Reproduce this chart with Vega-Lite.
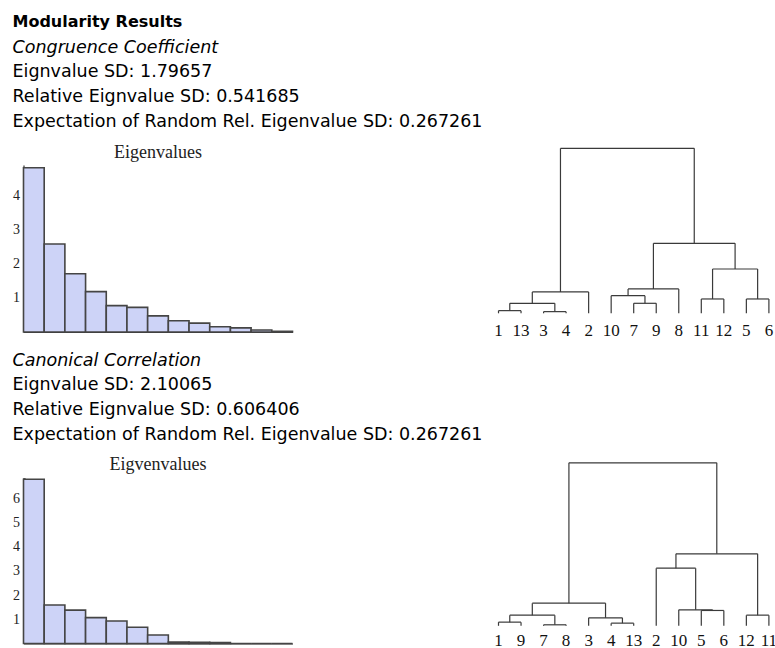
{
  "$schema": "https://vega.github.io/schema/vega-lite/v6.json",
  "background": "white",
  "padding": {"left": 12.5, "top": 13, "right": 0, "bottom": 0},
  "config": {
    "view": {"stroke": null},
    "axis": {"grid": false},
    "concat": {"spacing": 0}
  },
  "title": {
    "text": "Modularity Results",
    "anchor": "start",
    "font": "DejaVu Sans",
    "fontSize": 16,
    "fontWeight": "bold",
    "color": "#000000",
    "offset": 9
  },
  "spacing": 12.5,
  "vconcat": [
    {
      "title": {
        "text": "Congruence Coefficient",
        "subtitle": ["Eignvalue SD: 1.79657", "Relative Eignvalue SD: 0.541685", "Expectation of Random Rel. Eigenvalue SD: 0.267261"],
        "anchor": "start",
        "font": "DejaVu Sans",
        "fontSize": 17.5,
        "fontStyle": "italic",
        "fontWeight": "normal",
        "color": "#000000",
        "subtitleFont": "DejaVu Sans",
        "subtitleFontSize": 17.5,
        "subtitleColor": "#000000",
        "subtitleLineHeight": 25,
        "subtitlePadding": 6.2,
        "offset": 13.5
      },
      "spacing": 200.5,
      "hconcat": [
        {
          "width": 269,
          "height": 167,
          "title": {"text": "Eigenvalues", "font": "Liberation Serif", "fontSize": 18, "fontWeight": "normal", "color": "#222222", "offset": 3.5, "anchor": "middle"},
          "data": {"values": [
            {"k": 1, "v": 4.80}, {"k": 2, "v": 2.57}, {"k": 3, "v": 1.70}, {"k": 4, "v": 1.18},
            {"k": 5, "v": 0.77}, {"k": 6, "v": 0.72}, {"k": 7, "v": 0.47}, {"k": 8, "v": 0.33},
            {"k": 9, "v": 0.26}, {"k": 10, "v": 0.155}, {"k": 11, "v": 0.12}, {"k": 12, "v": 0.06},
            {"k": 13, "v": 0.02}
          ]},
          "mark": {"type": "bar", "fill": "#CDD3F7", "stroke": "#454545", "strokeWidth": 1.6},
          "encoding": {
            "x": {"field": "k", "type": "ordinal", "scale": {"paddingInner": 0, "paddingOuter": 0},
                  "axis": {"labels": false, "ticks": false, "title": null, "domainColor": "#333333", "domainWidth": 1.2}},
            "y": {"field": "v", "type": "quantitative", "scale": {"domain": [0, 4.88], "nice": false},
                  "axis": {
                    "title": null,
                    "values": [0.2, 0.4, 0.6, 0.8, 1, 1.2, 1.4, 1.6, 1.8, 2, 2.2, 2.4, 2.6, 2.8, 3, 3.2, 3.4, 3.6, 3.8, 4, 4.2, 4.4, 4.6, 4.8],
                    "labelExpr": "datum.value % 1 == 0 ? datum.value : ''",
                    "labelFont": "Liberation Serif", "labelFontSize": 14, "labelColor": "#222222",
                    "labelPadding": 8,
                    "tickSize": {"condition": {"test": "datum.value % 1 == 0", "value": -4}, "value": -2},
                    "tickColor": "#333333",
                    "domainColor": "#333333", "domainWidth": 1.2
                  }}
          }
        },
        {
          "width": 279.4,
          "height": 148.3,
          "layer": [
            {
              "data": {"values": [
                {"x1": 0, "x2": 1, "y1": 8, "y2": 8}, {"x1": 2, "x2": 3, "y1": 5, "y2": 5},
                {"x1": 0.5, "x2": 2.5, "y1": 30, "y2": 30}, {"x1": 1.5, "x2": 4, "y1": 64, "y2": 64},
                {"x1": 6, "x2": 7, "y1": 30, "y2": 30}, {"x1": 5, "x2": 6.5, "y1": 53, "y2": 53},
                {"x1": 5.75, "x2": 8, "y1": 73, "y2": 73}, {"x1": 9, "x2": 10, "y1": 43, "y2": 43},
                {"x1": 11, "x2": 12, "y1": 43, "y2": 43}, {"x1": 9.5, "x2": 11.5, "y1": 133, "y2": 133},
                {"x1": 6.875, "x2": 10.5, "y1": 210, "y2": 210}, {"x1": 2.75, "x2": 8.6875, "y1": 495, "y2": 495},
                {"x1": 0, "x2": 0, "y1": 0, "y2": 8}, {"x1": 1, "x2": 1, "y1": 0, "y2": 8},
                {"x1": 2, "x2": 2, "y1": 0, "y2": 5}, {"x1": 3, "x2": 3, "y1": 0, "y2": 5},
                {"x1": 0.5, "x2": 0.5, "y1": 8, "y2": 30}, {"x1": 2.5, "x2": 2.5, "y1": 5, "y2": 30},
                {"x1": 1.5, "x2": 1.5, "y1": 30, "y2": 64}, {"x1": 4, "x2": 4, "y1": 0, "y2": 64},
                {"x1": 6, "x2": 6, "y1": 0, "y2": 30}, {"x1": 7, "x2": 7, "y1": 0, "y2": 30},
                {"x1": 6.5, "x2": 6.5, "y1": 30, "y2": 53}, {"x1": 5, "x2": 5, "y1": 0, "y2": 53},
                {"x1": 5.75, "x2": 5.75, "y1": 53, "y2": 73}, {"x1": 8, "x2": 8, "y1": 0, "y2": 73},
                {"x1": 9, "x2": 9, "y1": 0, "y2": 43}, {"x1": 10, "x2": 10, "y1": 0, "y2": 43},
                {"x1": 11, "x2": 11, "y1": 0, "y2": 43}, {"x1": 12, "x2": 12, "y1": 0, "y2": 43},
                {"x1": 9.5, "x2": 9.5, "y1": 43, "y2": 133}, {"x1": 11.5, "x2": 11.5, "y1": 43, "y2": 133},
                {"x1": 6.875, "x2": 6.875, "y1": 73, "y2": 210}, {"x1": 10.5, "x2": 10.5, "y1": 133, "y2": 210},
                {"x1": 2.75, "x2": 2.75, "y1": 64, "y2": 495}, {"x1": 8.6875, "x2": 8.6875, "y1": 210, "y2": 495}
              ]},
              "mark": {"type": "rule", "stroke": "#3a3a3a", "strokeWidth": 1.2},
              "encoding": {
                "x": {"field": "x1", "type": "quantitative", "scale": {"domain": [-0.2, 12.2], "nice": false, "zero": false}, "axis": null},
                "x2": {"field": "x2"},
                "y": {"field": "y1", "type": "quantitative", "scale": {"domain": [0, 445], "nice": false}, "axis": null},
                "y2": {"field": "y2"}
              }
            },
            {
              "data": {"values": [
                {"pos": 0, "label": "1"}, {"pos": 1, "label": "13"}, {"pos": 2, "label": "3"}, {"pos": 3, "label": "4"},
                {"pos": 4, "label": "2"}, {"pos": 5, "label": "10"}, {"pos": 6, "label": "7"}, {"pos": 7, "label": "9"},
                {"pos": 8, "label": "8"}, {"pos": 9, "label": "11"}, {"pos": 10, "label": "12"}, {"pos": 11, "label": "5"},
                {"pos": 12, "label": "6"}
              ]},
              "mark": {"type": "text", "font": "Liberation Serif", "fontSize": 17, "baseline": "alphabetic", "dy": 22.4, "color": "#111111"},
              "encoding": {
                "x": {"field": "pos", "type": "quantitative"},
                "y": {"datum": 0, "type": "quantitative"},
                "text": {"field": "label"}
              }
            }
          ]
        }
      ]
    },
    {
      "title": {
        "text": "Canonical Correlation",
        "subtitle": ["Eignvalue SD: 2.10065", "Relative Eignvalue SD: 0.606406", "Expectation of Random Rel. Eigenvalue SD: 0.267261"],
        "anchor": "start",
        "font": "DejaVu Sans",
        "fontSize": 17.5,
        "fontStyle": "italic",
        "fontWeight": "normal",
        "color": "#000000",
        "subtitleFont": "DejaVu Sans",
        "subtitleFontSize": 17.5,
        "subtitleColor": "#000000",
        "subtitleLineHeight": 24.8,
        "subtitlePadding": 6.8,
        "offset": 12.4
      },
      "spacing": 200.5,
      "hconcat": [
        {
          "width": 269,
          "height": 166,
          "title": {"text": "Eigvenvalues", "font": "Liberation Serif", "fontSize": 18, "fontWeight": "normal", "color": "#222222", "offset": 3.7, "anchor": "middle"},
          "data": {"values": [
            {"k": 1, "v": 6.79}, {"k": 2, "v": 1.59}, {"k": 3, "v": 1.38}, {"k": 4, "v": 1.07},
            {"k": 5, "v": 0.93}, {"k": 6, "v": 0.67}, {"k": 7, "v": 0.35}, {"k": 8, "v": 0.06},
            {"k": 9, "v": 0.05}, {"k": 10, "v": 0.04}, {"k": 11, "v": 0}, {"k": 12, "v": 0},
            {"k": 13, "v": 0}
          ]},
          "mark": {"type": "bar", "fill": "#CDD3F7", "stroke": "#454545", "strokeWidth": 1.6},
          "encoding": {
            "x": {"field": "k", "type": "ordinal", "scale": {"paddingInner": 0, "paddingOuter": 0},
                  "axis": {"labels": false, "ticks": false, "title": null, "domainColor": "#333333", "domainWidth": 1.2}},
            "y": {"field": "v", "type": "quantitative", "scale": {"domain": [0, 6.86], "nice": false},
                  "axis": {
                    "title": null,
                    "values": [0.2, 0.4, 0.6, 0.8, 1, 1.2, 1.4, 1.6, 1.8, 2, 2.2, 2.4, 2.6, 2.8, 3, 3.2, 3.4, 3.6, 3.8, 4, 4.2, 4.4, 4.6, 4.8, 5, 5.2, 5.4, 5.6, 5.8, 6, 6.2, 6.4, 6.6, 6.8],
                    "labelExpr": "datum.value % 1 == 0 ? datum.value : ''",
                    "labelFont": "Liberation Serif", "labelFontSize": 14, "labelColor": "#222222",
                    "labelPadding": 8,
                    "tickSize": {"condition": {"test": "datum.value % 1 == 0", "value": -4}, "value": -2},
                    "tickColor": "#333333",
                    "domainColor": "#333333", "domainWidth": 1.2
                  }}
          }
        },
        {
          "width": 279.4,
          "height": 148.3,
          "layer": [
            {
              "data": {"values": [
                {"x1": 0, "x2": 1, "y1": 11, "y2": 11}, {"x1": 2, "x2": 3, "y1": 3, "y2": 3},
                {"x1": 0.5, "x2": 2.5, "y1": 32, "y2": 32}, {"x1": 5, "x2": 6, "y1": 8, "y2": 8},
                {"x1": 4, "x2": 5.5, "y1": 24, "y2": 24}, {"x1": 1.5, "x2": 4.75, "y1": 68, "y2": 68},
                {"x1": 9, "x2": 10, "y1": 46, "y2": 46}, {"x1": 8, "x2": 9.5, "y1": 48, "y2": 48},
                {"x1": 7, "x2": 8.75, "y1": 173, "y2": 173}, {"x1": 11, "x2": 12, "y1": 32, "y2": 32},
                {"x1": 7.875, "x2": 11.5, "y1": 216, "y2": 216}, {"x1": 3.125, "x2": 9.6875, "y1": 489, "y2": 489},
                {"x1": 0, "x2": 0, "y1": 0, "y2": 11}, {"x1": 1, "x2": 1, "y1": 0, "y2": 11},
                {"x1": 2, "x2": 2, "y1": 0, "y2": 3}, {"x1": 3, "x2": 3, "y1": 0, "y2": 3},
                {"x1": 0.5, "x2": 0.5, "y1": 11, "y2": 32}, {"x1": 2.5, "x2": 2.5, "y1": 3, "y2": 32},
                {"x1": 5, "x2": 5, "y1": 0, "y2": 8}, {"x1": 6, "x2": 6, "y1": 0, "y2": 8},
                {"x1": 4, "x2": 4, "y1": 0, "y2": 24}, {"x1": 5.5, "x2": 5.5, "y1": 8, "y2": 24},
                {"x1": 1.5, "x2": 1.5, "y1": 32, "y2": 68}, {"x1": 4.75, "x2": 4.75, "y1": 24, "y2": 68},
                {"x1": 9, "x2": 9, "y1": 0, "y2": 46}, {"x1": 10, "x2": 10, "y1": 0, "y2": 46},
                {"x1": 8, "x2": 8, "y1": 0, "y2": 48}, {"x1": 9.5, "x2": 9.5, "y1": 46, "y2": 48},
                {"x1": 7, "x2": 7, "y1": 0, "y2": 173}, {"x1": 8.75, "x2": 8.75, "y1": 48, "y2": 173},
                {"x1": 11, "x2": 11, "y1": 0, "y2": 32}, {"x1": 12, "x2": 12, "y1": 0, "y2": 32},
                {"x1": 11.5, "x2": 11.5, "y1": 32, "y2": 216}, {"x1": 7.875, "x2": 7.875, "y1": 173, "y2": 216},
                {"x1": 3.125, "x2": 3.125, "y1": 68, "y2": 489}, {"x1": 9.6875, "x2": 9.6875, "y1": 216, "y2": 489}
              ]},
              "mark": {"type": "rule", "stroke": "#3a3a3a", "strokeWidth": 1.2},
              "encoding": {
                "x": {"field": "x1", "type": "quantitative", "scale": {"domain": [-0.2, 12.2], "nice": false, "zero": false}, "axis": null},
                "x2": {"field": "x2"},
                "y": {"field": "y1", "type": "quantitative", "scale": {"domain": [0, 445], "nice": false}, "axis": null},
                "y2": {"field": "y2"}
              }
            },
            {
              "data": {"values": [
                {"pos": 0, "label": "1"}, {"pos": 1, "label": "9"}, {"pos": 2, "label": "7"}, {"pos": 3, "label": "8"},
                {"pos": 4, "label": "3"}, {"pos": 5, "label": "4"}, {"pos": 6, "label": "13"}, {"pos": 7, "label": "2"},
                {"pos": 8, "label": "10"}, {"pos": 9, "label": "5"}, {"pos": 10, "label": "6"}, {"pos": 11, "label": "12"},
                {"pos": 12, "label": "11"}
              ]},
              "mark": {"type": "text", "font": "Liberation Serif", "fontSize": 17, "baseline": "alphabetic", "dy": 20.4, "color": "#111111"},
              "encoding": {
                "x": {"field": "pos", "type": "quantitative"},
                "y": {"datum": 0, "type": "quantitative"},
                "text": {"field": "label"}
              }
            }
          ]
        }
      ]
    }
  ]
}
